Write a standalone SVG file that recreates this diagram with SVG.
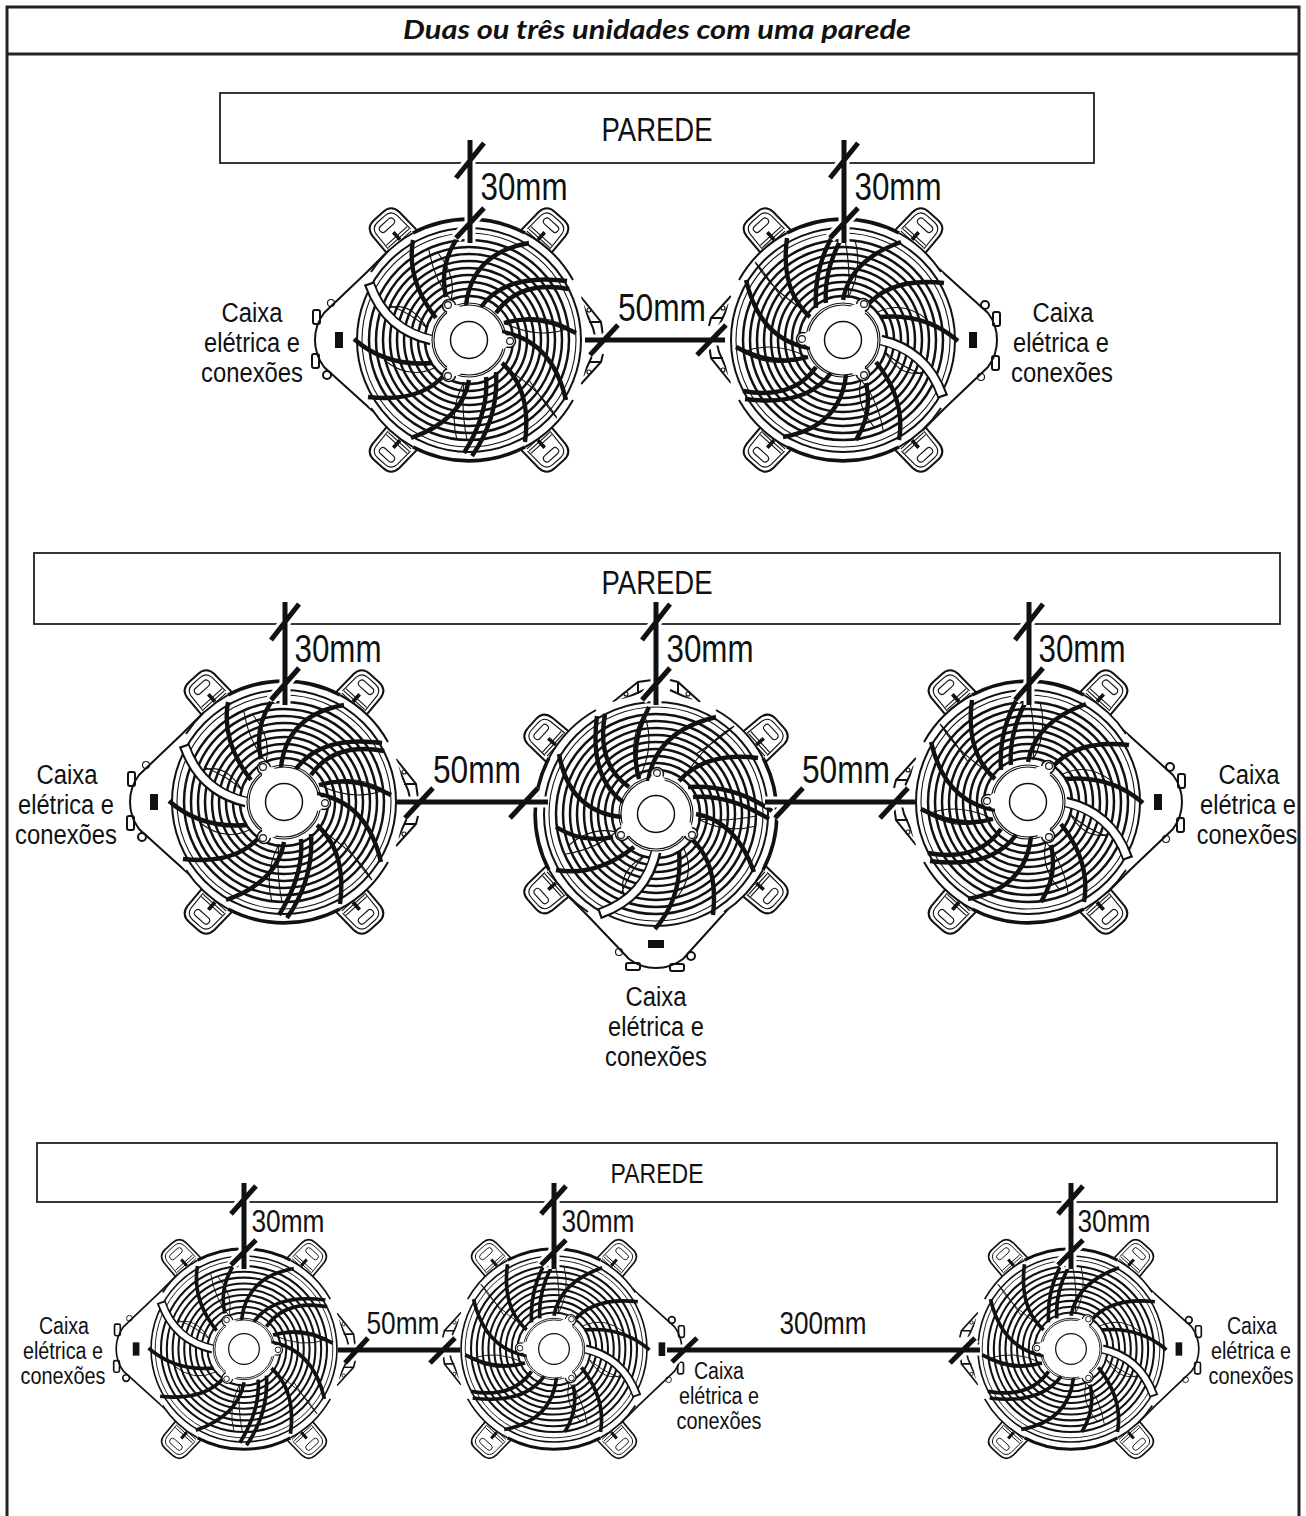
<svg xmlns="http://www.w3.org/2000/svg" width="1306" height="1516" viewBox="0 0 1306 1516">
<style>
text{font-family:"Liberation Sans",Arial,sans-serif;fill:#111;text-anchor:middle}
.title{font-family:"Lato","Open Sans",sans-serif;font-style:italic;font-weight:700;font-size:27px}
.frame{fill:none;stroke:#222;stroke-width:3}
.wall{fill:#fff;stroke:#222;stroke-width:1.8}
.dim{fill:none;stroke:#111;stroke-width:5}
.halo{fill:none;stroke:#fff;stroke-width:11}
.w1{font-size:33px}.w3{font-size:27px}
.d1{font-size:38px}.d3{font-size:31px}
.c1{font-size:27px}.c3{font-size:23px}
.ring{fill:none;stroke:#111;stroke-width:2.5}
.thin{fill:none;stroke:#111;stroke-width:1.1}
.med{fill:none;stroke:#111;stroke-width:2}
.thick{fill:none;stroke:#111;stroke-width:3.6}
.spoke{fill:none;stroke:#111;stroke-width:4.4}
</style>
<defs>
<g id="foot">
<path class="med" fill="#fff" d="M-19,16L-18,-12Q-17,-23-6,-23L6,-23Q17,-23 18,-12L19,16"/>
<path class="thin" d="M-15,8L-14,-11Q-13,-19-5,-19L5,-19Q13,-19 14,-11L15,8"/>
<rect class="thin" x="-9" y="-14" width="18" height="7" rx="3.5"/>
<path class="thin" d="M-14,4H14M-14,7H14M-14,10H14"/>
<path class="thick" d="M0,-1V9"/>
</g>
<g id="fan">
<path fill="#fff" class="med" d="M-80,-90L-102,-68L-145,-27Q-154,-15-154,0Q-154,15-145,27L-83,83L-70,95"/>
<rect class="med" x="-156" y="-30" width="7" height="14" rx="2" fill="#fff"/>
<rect class="med" x="-157" y="14" width="7" height="14" rx="2" fill="#fff"/>
<circle class="thin" cx="-138" cy="-37" r="3.5"/><circle class="med" cx="-142" cy="35" r="4"/>
<path fill="#111" d="M-134,-8h8v16h-8z"/>
<path class="med" fill="#fff" d="M112,-43L132,-18L134,-4M134,14L132,22L112,44"/>
<path class="med" d="M114,-35L124,-12L126,-4M114,36L124,14M120,-18L132,-18M120,22L132,22"/>
<circle class="thin" cx="120" cy="-30" r="2"/><circle class="thin" cx="120" cy="32" r="2"/>
<use href="#foot" transform="translate(-75,-107) rotate(-42)"/>
<use href="#foot" transform="translate(75,-107) rotate(42)"/>
<use href="#foot" transform="translate(75,107) rotate(138)"/>
<use href="#foot" transform="translate(-75,107) rotate(-138)"/>
<circle cx="0" cy="0" r="120" fill="#fff" stroke="none"/>
<path class="thick" d="M-56,-107A120,120 0 0 1 56,-107M-56,107A120,120 0 0 0 56,107"/>
<path class="med" d="M56,-107A120,120 0 0 1 104,-60M-56,-107A120,120 0 0 0 -98,-68M-98,68A120,120 0 0 0 -56,107M104,60A120,120 0 0 1 56,107"/>
<circle class="med" r="112"/><circle class="thin" r="107"/>
<circle class="ring" r="44"/><circle class="ring" r="51"/><circle class="ring" r="58"/><circle class="ring" r="65"/><circle class="ring" r="72"/><circle class="ring" r="79"/><circle class="ring" r="86"/><circle class="ring" r="93"/><circle class="ring" r="100"/>
<path class="thin" d="M-40,-90Q-35,-60-18,-40M-32,-88Q-12,-65-18,-40M35,-17Q70,0 100,-12M35,-17Q70,-30 100,-12M-87,-30Q-60,-42-42,-12M-80,-35Q-55,-25-42,-12M-12,100Q-20,70-5,42M-2,100Q-8,70-5,42M60,40Q80,70 88,78M36,28Q70,48 88,78M-85,20Q-60,40-35,28"/>
<path class="spoke" d="M-56,-100Q-63,-60-33,-22M-13,-100Q-30,-73-23,-43M60,-97Q3,-87-3,-35M98,-59Q37,-67 12,-33M100,-51Q50,-60 27,-27M107,-7Q70,-27 35,-17M97,60Q83,0 33,-8M56,102Q63,50 33,23M3,116Q30,77 27,32M-5,113Q20,73 17,37M-58,98Q-7,80 0,40M-101,57Q-47,63-23,33M-115,-1Q-83,27-37,23"/>
<path fill="none" stroke="#111" stroke-width="11" d="M-100,-57Q-83,-10-38,0"/>
<path fill="none" stroke="#fff" stroke-width="7" d="M-99,-55Q-83,-10-36,0"/>
<circle r="37" fill="#fff" class="thin"/><circle r="35" fill="#fff" class="thin"/>
<circle cx="-20" cy="-34" r="6.5" fill="#fff" stroke="#111" stroke-width="1.5"/>
<circle cx="40" cy="1" r="6.5" fill="#fff" stroke="#111" stroke-width="1.5"/>
<circle cx="-20" cy="35" r="6.5" fill="#fff" stroke="#111" stroke-width="1.5"/>
<circle cx="-14" cy="-27" r="8" fill="#fff"/><circle cx="32" cy="1" r="8" fill="#fff"/><circle cx="-14" cy="28" r="8" fill="#fff"/>
<circle class="thin" cx="-21" cy="-35" r="3.4"/><circle class="thin" cx="41" cy="1" r="3.4"/><circle class="thin" cx="-21" cy="36" r="3.4"/>
<circle r="18.5" fill="#fff" stroke="#111" stroke-width="1.5"/>
</g>
</defs>
<rect width="1306" height="1516" fill="#fff"/>
<g id="frame">
<path class="frame" d="M7,1516V7H1299V1516M7,54H1299"/>
<text class="title" x="657" y="39" textLength="508" lengthAdjust="spacingAndGlyphs">Duas ou três unidades com uma parede</text>
</g>
<g id="wall-1"><rect class="wall" x="220" y="93" width="874" height="70"/><text class="w1" x="657" y="141" textLength="111" lengthAdjust="spacingAndGlyphs">PAREDE</text></g>
<g id="wall-2"><rect class="wall" x="34" y="553" width="1246" height="71"/><text class="w1" x="657" y="594" textLength="111" lengthAdjust="spacingAndGlyphs">PAREDE</text></g>
<g id="wall-3"><rect class="wall" x="37" y="1143" width="1240" height="59"/><text class="w3" x="657" y="1183" textLength="93" lengthAdjust="spacingAndGlyphs">PAREDE</text></g>
<g id="fan-1"><use href="#fan" transform="translate(469,340)"/></g>
<g id="fan-2"><use href="#fan" transform="translate(843,340) rotate(180)"/></g>
<g id="fan-3"><use href="#fan" transform="translate(284,802)"/></g>
<g id="fan-4"><use href="#fan" transform="translate(656,814) rotate(-90)"/></g>
<g id="fan-5"><use href="#fan" transform="translate(1028,802) rotate(180)"/></g>
<g id="fan-6"><use href="#fan" transform="translate(244,1349) scale(.83)"/></g>
<g id="fan-7"><use href="#fan" transform="translate(554,1349) rotate(180) scale(.83)"/></g>
<g id="fan-8"><use href="#fan" transform="translate(1071,1349) rotate(180) scale(.83)"/></g>
<g id="connectors">
<path class="halo" d="M470,163V243M456,178L484,143M456,238L484,208M844,163V243M830,178L858,143M830,238L858,208M585,340H725M590,355L618,325M697,355L726,325
M285,624V705M271,640L299,604M271,700L299,668M656,624V705M642,640L670,604M642,700L670,668M1029,624V705M1015,640L1043,604M1015,700L1043,668M397,802H548M405,818L433,788M510,818L538,788M765,802H915M775,818L803,788M880,818L908,788
M244,1202V1269M231,1214L256,1186M231,1265L256,1240M554,1202V1269M541,1214L566,1186M541,1265L566,1240M1071,1202V1269M1058,1214L1083,1186M1058,1265L1083,1240M338,1350H460M345,1363L368,1338M430,1363L455,1338M667,1350H980M672,1362L697,1338M950,1363L975,1338"/>
<path class="dim" d="M470,140V243M456,178L484,143M456,238L484,208M844,140V243M830,178L858,143M830,238L858,208M585,340H725M590,355L618,325M697,355L726,325
M285,602V705M271,640L299,604M271,700L299,668M656,602V705M642,640L670,604M642,700L670,668M1029,602V705M1015,640L1043,604M1015,700L1043,668M397,802H548M405,818L433,788M510,818L538,788M765,802H915M775,818L803,788M880,818L908,788"/>
<path class="dim" d="M244,1183V1269M231,1214L256,1186M231,1265L256,1240M554,1183V1269M541,1214L566,1186M541,1265L566,1240M1071,1183V1269M1058,1214L1083,1186M1058,1265L1083,1240M338,1350H460M345,1363L368,1338M430,1363L455,1338M667,1350H980M672,1362L697,1338M950,1363L975,1338"/>
<path class="med" d="M665,1345H660V1355H665"/>
</g>
<g id="labels">
<g class="d1">
<text x="524" y="200" textLength="87" lengthAdjust="spacingAndGlyphs">30mm</text>
<text x="898" y="200" textLength="87" lengthAdjust="spacingAndGlyphs">30mm</text>
<text x="662" y="321" textLength="88" lengthAdjust="spacingAndGlyphs">50mm</text>
<text x="338" y="662" textLength="87" lengthAdjust="spacingAndGlyphs">30mm</text>
<text x="710" y="662" textLength="87" lengthAdjust="spacingAndGlyphs">30mm</text>
<text x="1082" y="662" textLength="87" lengthAdjust="spacingAndGlyphs">30mm</text>
<text x="477" y="783" textLength="88" lengthAdjust="spacingAndGlyphs">50mm</text>
<text x="846" y="783" textLength="88" lengthAdjust="spacingAndGlyphs">50mm</text>
</g>
<g class="d3">
<text x="288" y="1232" textLength="73" lengthAdjust="spacingAndGlyphs">30mm</text>
<text x="598" y="1232" textLength="73" lengthAdjust="spacingAndGlyphs">30mm</text>
<text x="1114" y="1232" textLength="73" lengthAdjust="spacingAndGlyphs">30mm</text>
<text x="403" y="1334" textLength="73" lengthAdjust="spacingAndGlyphs">50mm</text>
<text x="823" y="1334" textLength="87" lengthAdjust="spacingAndGlyphs">300mm</text>
</g>
<g class="c1">
<text x="252" y="322" textLength="61" lengthAdjust="spacingAndGlyphs">Caixa</text><text x="252" y="352" textLength="96" lengthAdjust="spacingAndGlyphs">elétrica e</text><text x="252" y="382" textLength="102" lengthAdjust="spacingAndGlyphs">conexões</text>
<text x="1063" y="322" textLength="61" lengthAdjust="spacingAndGlyphs">Caixa</text><text x="1061" y="352" textLength="96" lengthAdjust="spacingAndGlyphs">elétrica e</text><text x="1062" y="382" textLength="102" lengthAdjust="spacingAndGlyphs">conexões</text>
<text x="67" y="784" textLength="61" lengthAdjust="spacingAndGlyphs">Caixa</text><text x="66" y="814" textLength="96" lengthAdjust="spacingAndGlyphs">elétrica e</text><text x="66" y="844" textLength="102" lengthAdjust="spacingAndGlyphs">conexões</text>
<text x="1249" y="784" textLength="61" lengthAdjust="spacingAndGlyphs">Caixa</text><text transform="translate(1248,814) scale(.877,1)">elétrica e</text><text transform="translate(1247,844) scale(.87,1)">conexões</text>
<text x="656" y="1006" textLength="61" lengthAdjust="spacingAndGlyphs">Caixa</text><text x="656" y="1036" textLength="96" lengthAdjust="spacingAndGlyphs">elétrica e</text><text x="656" y="1066" textLength="102" lengthAdjust="spacingAndGlyphs">conexões</text>
</g>
<g class="c3">
<text x="64" y="1334" textLength="50" lengthAdjust="spacingAndGlyphs">Caixa</text><text x="63" y="1359" textLength="80" lengthAdjust="spacingAndGlyphs">elétrica e</text><text x="63" y="1384" textLength="85" lengthAdjust="spacingAndGlyphs">conexões</text>
<text x="719" y="1379" textLength="50" lengthAdjust="spacingAndGlyphs">Caixa</text><text x="719" y="1404" textLength="80" lengthAdjust="spacingAndGlyphs">elétrica e</text><text x="719" y="1429" textLength="85" lengthAdjust="spacingAndGlyphs">conexões</text>
<text x="1252" y="1334" textLength="50" lengthAdjust="spacingAndGlyphs">Caixa</text><text x="1251" y="1359" textLength="80" lengthAdjust="spacingAndGlyphs">elétrica e</text><text x="1251" y="1384" textLength="85" lengthAdjust="spacingAndGlyphs">conexões</text>
</g>
</g>
</svg>
